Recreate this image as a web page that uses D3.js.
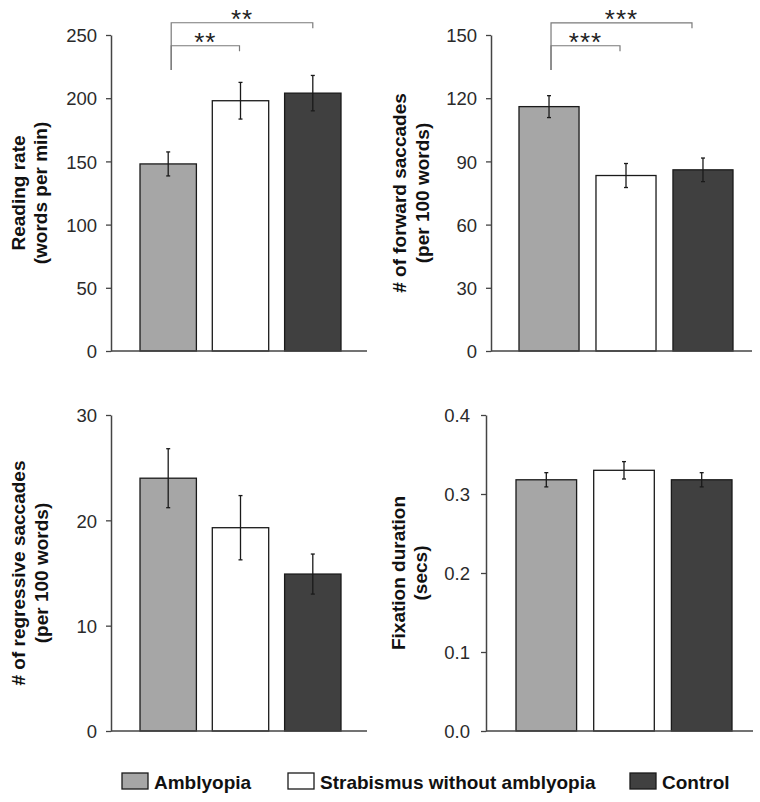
<!DOCTYPE html>
<html>
<head>
<meta charset="utf-8">
<script src="https://cdn.jsdelivr.net/npm/d3@7"></script>
<style>
  body { margin: 0; background: #fff; }
  svg { display: block; font-family: "Liberation Sans", Arial, sans-serif; }
</style>
</head>
<body>
<div id="chart"></div>
<script>
// groups + colours
const groups = ["Amblyopia", "Strabismus without amblyopia", "Control"];
const fills = ["#a6a6a6", "#ffffff", "#404040"];

// values (mean, error)
const readingRate = [148, 198, 204];
const readingErr = [9.5, 14.5, 14];
const forwardSacc = [116, 83.3, 86];
const forwardErr = [5.2, 5.7, 5.6];
const regressSacc = [24.0, 19.3, 14.9];
const regressErr = [2.8, 3.05, 1.9];
const fixDur = [0.318, 0.330, 0.318];
const fixErr = [0.009, 0.011, 0.009];

// tick labels
const readingTicks = [0, 50, 100, 150, 200, 250];
const forwardTicks = [0, 30, 60, 90, 120, 150];
const regressTicks = [0, 10, 20, 30];
const fixTicks = [0, 0.1, 0.2, 0.3, 0.4];

// significance brackets: from group, to group, level (data units), stars
const readingSig = [
  { a: 0, b: 2, level: 259.7, stars: "**" },
  { a: 0, b: 1, level: 241.5, stars: "**" }
];
const forwardSig = [
  { a: 0, b: 2, level: 155.8, stars: "***" },
  { a: 0, b: 1, level: 144.9, stars: "***" }
];

const W = 760, H = 802;
const svg = d3.select("#chart").append("svg")
  .attr("width", W)
  .attr("height", H);

function panel(cfg) {
  const g = svg.append("g");

  const y = d3.scaleLinear()
    .domain([0, d3.max(cfg.ticks)])
    .range([cfg.bottom, cfg.top]);

  const x = d3.scaleBand()
    .domain(d3.range(groups.length))
    .range([cfg.barL, cfg.barR])
    .paddingInner(0.22);

  // bars
  g.selectAll(".bar")
    .data(cfg.values)
    .join("rect")
    .attr("class", "bar")
    .attr("x", (d, i) => x(i))
    .attr("y", d => y(d))
    .attr("width", x.bandwidth())
    .attr("height", d => y(0) - y(d))
    .attr("fill", (d, i) => fills[i])
    .attr("stroke", "#1a1a1a")
    .attr("stroke-width", 1.3);

  // error bars
  const eb = g.selectAll(".err")
    .data(cfg.values.map((v, i) => ({ v: v, e: cfg.errs[i], i: i })))
    .join("g")
    .attr("class", "err")
    .attr("transform", d => `translate(${x(d.i) + x.bandwidth() / 2},0)`)
    .attr("stroke", "#1a1a1a")
    .attr("stroke-width", 1.3);
  eb.append("line")
    .attr("y1", d => y(d.v - d.e)).attr("y2", d => y(d.v + d.e));
  eb.append("line")
    .attr("x1", -2).attr("x2", 2)
    .attr("y1", d => y(d.v + d.e)).attr("y2", d => y(d.v + d.e));
  eb.append("line")
    .attr("x1", -2).attr("x2", 2)
    .attr("y1", d => y(d.v - d.e)).attr("y2", d => y(d.v - d.e));

  // y axis
  const ax = g.append("g")
    .attr("transform", `translate(${cfg.axisX},0)`)
    .call(d3.axisLeft(y)
      .tickValues(cfg.ticks)
      .tickSize(5)
      .tickSizeOuter(0)
      .tickPadding(cfg.pad)
      .tickFormat(cfg.fmt));
  ax.select(".domain").attr("stroke", "#444").attr("stroke-width", 1.5);
  ax.selectAll(".tick line").attr("stroke", "#444").attr("stroke-width", 1.3);
  ax.selectAll(".tick text")
    .attr("fill", "#2a2a2a")
    .style("font-size", "18.5px")
    .attr("dy", "0.36em");

  // x baseline
  g.append("line")
    .attr("x1", cfg.axisX).attr("x2", cfg.xEnd)
    .attr("y1", y(0)).attr("y2", y(0))
    .attr("stroke", "#444").attr("stroke-width", 1.5);

  // y title (two lines)
  cfg.title.forEach((t, k) => {
    g.append("text")
      .attr("transform", `translate(${cfg.titleX[k]},${(cfg.top + cfg.bottom) / 2}) rotate(-90)`)
      .attr("text-anchor", "middle")
      .attr("dy", "0.35em")
      .style("font-size", "19px")
      .style("font-weight", "bold")
      .attr("fill", "#111")
      .text(t);
  });

  // significance brackets
  if (cfg.sig) {
    const cx = i => x(i) + x.bandwidth() / 2;
    const legBottom = y(cfg.sigLeg);
    cfg.sig.forEach((s, k) => {
      const x1 = cx(s.a) + cfg.sigDx[k][0];
      const x2 = cx(s.b) + cfg.sigDx[k][1];
      const ly = y(s.level);
      g.append("path")
        .attr("d", `M${x1},${legBottom}V${ly}H${x2}V${ly + 5.5}`)
        .attr("fill", "none")
        .attr("stroke", "#7a7a7a")
        .attr("stroke-width", 1.2);
      g.append("text")
        .attr("x", (x1 + x2) / 2)
        .attr("y", ly + 5.5)
        .attr("text-anchor", "middle")
        .style("font-size", "26px")
        .style("letter-spacing", "1px")
        .attr("fill", "#222")
        .text(s.stars);
    });
  }
}

panel({
  values: readingRate, errs: readingErr, ticks: readingTicks, fmt: d3.format("d"),
  top: 35, bottom: 351, axisX: 111, xEnd: 367, barL: 140, barR: 341, pad: 9,
  title: ["Reading rate", "(words per min)"], titleX: [18, 40],
  sig: readingSig, sigLeg: 222.3, sigDx: [[3, 0], [3, -1]]
});

panel({
  values: forwardSacc, errs: forwardErr, ticks: forwardTicks, fmt: d3.format("d"),
  top: 35, bottom: 351, axisX: 491, xEnd: 752, barL: 519, barR: 733, pad: 9,
  title: ["# of forward saccades", "(per 100 words)"], titleX: [399, 422],
  sig: forwardSig, sigLeg: 133.4, sigDx: [[2, -11], [2, -6]]
});

panel({
  values: regressSacc, errs: regressErr, ticks: regressTicks, fmt: d3.format("d"),
  top: 415, bottom: 731, axisX: 111, xEnd: 367, barL: 140, barR: 341, pad: 9,
  title: ["# of regressive saccades", "(per 100 words)"], titleX: [18, 41]
});

panel({
  values: fixDur, errs: fixErr, ticks: fixTicks, fmt: d3.format(".1f"),
  top: 415, bottom: 731, axisX: 486, xEnd: 753, barL: 516, barR: 732, pad: 11,
  title: ["Fixation duration", "(secs)"], titleX: [398, 420]
});

// legend
const legendX = [122, 288, 630];
const leg = svg.append("g")
  .selectAll("g")
  .data(groups)
  .join("g")
  .attr("transform", (d, i) => `translate(${legendX[i]},773)`);
leg.append("rect")
  .attr("width", 26).attr("height", 16)
  .attr("fill", (d, i) => fills[i])
  .attr("stroke", "#1a1a1a").attr("stroke-width", 1.3);
leg.append("text")
  .attr("x", 32).attr("y", 16)
  .style("font-size", "19px")
  .style("font-weight", "bold")
  .attr("fill", "#111")
  .text(d => d);
</script>
</body>
</html>
